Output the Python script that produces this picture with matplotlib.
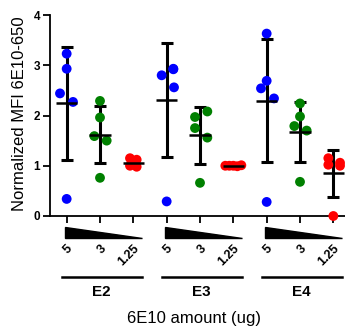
import numpy as np
import matplotlib
matplotlib.use("Agg")
import matplotlib.pyplot as plt
import matplotlib.transforms as mtransforms

plt.rcParams['font.family'] = ['Liberation Sans', 'DejaVu Sans']

# dados
grupos = ['E2', 'E3', 'E4']
doses = ['5', '3', '1.25']
cores = ['#0000ff', '#008000', '#ff0000']

valores = {
    'E2': [[3.23, 2.93, 2.44, 2.27, 0.34],
           [2.29, 1.96, 1.59, 1.50, 0.76],
           [1.15, 1.12, 1.00, 0.98, 1.05]],
    'E3': [[2.80, 2.92, 2.56, 0.29, 2.93],
           [1.97, 2.08, 1.75, 1.56, 0.66],
           [1.00, 1.00, 1.00, 0.99, 1.01]],
    'E4': [[3.63, 2.69, 2.54, 2.34, 0.28],
           [2.24, 1.98, 1.79, 1.70, 0.68],
           [1.15, 1.02, 1.06, 1.00, 0.00]],
}

# deslocamento horizontal de cada ponto (espalhamento dos pontos)
jitter = {
    'E2': [[0, 0, -0.2, 0.19, 0],
           [0, 0, -0.17, 0.2, 0],
           [-0.1, 0.1, -0.1, 0.1, 0]],
    'E3': [[-0.15, 0.2, 0.22, 0, 0.2],
           [-0.15, 0.22, -0.15, 0.22, 0],
           [-0.24, -0.12, 0, 0.12, 0.24]],
    'E4': [[0, 0, -0.17, 0.22, 0],
           [0, 0, -0.17, 0.2, 0],
           [-0.15, -0.15, 0.2, 0.2, 0]],
}

fig = plt.figure(figsize=(3.45, 3.27), dpi=100)
ax = fig.add_axes([50/345, 1 - 216/327, 295/345, 201/327])

posicoes = []
rotulos = []
for g, grupo in enumerate(grupos):
    for d, dose in enumerate(doses):
        x = g*3 + d + 1
        posicoes.append(x)
        rotulos.append(dose)
        y = np.array(valores[grupo][d])
        dx = np.array(jitter[grupo][d])
        media = y.mean()
        dp = y.std(ddof=1)
        ax.scatter(x + dx, y, s=50, color=cores[d], edgecolors='none',
                   zorder=3, clip_on=False)
        ax.errorbar(x, media, yerr=dp, fmt='none', ecolor='black',
                    elinewidth=2.2, capsize=4.4, capthick=2.2, zorder=2)
        ax.hlines(media, x - 0.32, x + 0.32, colors='black', linewidth=1.8,
                  zorder=4)

ax.set_xlim(0.5, 9.35)
ax.set_ylim(0, 4)
ax.set_yticks([0, 1, 2, 3, 4])
ax.set_xticks(posicoes)
ax.set_xticklabels(rotulos, rotation=45, ha='right', rotation_mode='anchor',
                   fontsize=9, fontweight='bold')
ax.tick_params(axis='x', length=5, width=1.3, pad=14)
ax.tick_params(axis='y', length=5, width=1.3, pad=2, labelsize=8.5)
for lbl in ax.get_yticklabels():
    lbl.set_fontweight('bold')

for lado in ['top', 'right']:
    ax.spines[lado].set_visible(False)
for lado in ['left', 'bottom']:
    ax.spines[lado].set_linewidth(1.3)

# triângulos, linhas e nomes dos grupos abaixo do eixo x
trans = mtransforms.blended_transform_factory(ax.transData, ax.transAxes)
for g, grupo in enumerate(grupos):
    x0 = g*3 + 1
    tri = plt.Polygon([[x0 - 0.04, -0.053], [x0 - 0.04, -0.111],
                       [x0 + 2.25, -0.111]], closed=True, color='black',
                      transform=trans, clip_on=False)
    ax.add_patch(tri)
    ax.plot([x0 - 0.15, x0 + 2.25], [-0.302, -0.302], color='black',
            linewidth=1.8, transform=trans, clip_on=False)
    ax.text(x0 + 1.05, -0.377, grupo, transform=trans, ha='center',
            va='center', fontsize=11, fontweight='bold')

fig.text(194/345, 1 - 318/327, '6E10 amount (ug)', ha='center', va='center',
         fontsize=12)
fig.text(19.5/345, 1 - 114/327, 'Normalized MFI 6E10-650', ha='center',
         va='center', rotation=90, fontsize=12)

fig.savefig('out.png', dpi=100)
